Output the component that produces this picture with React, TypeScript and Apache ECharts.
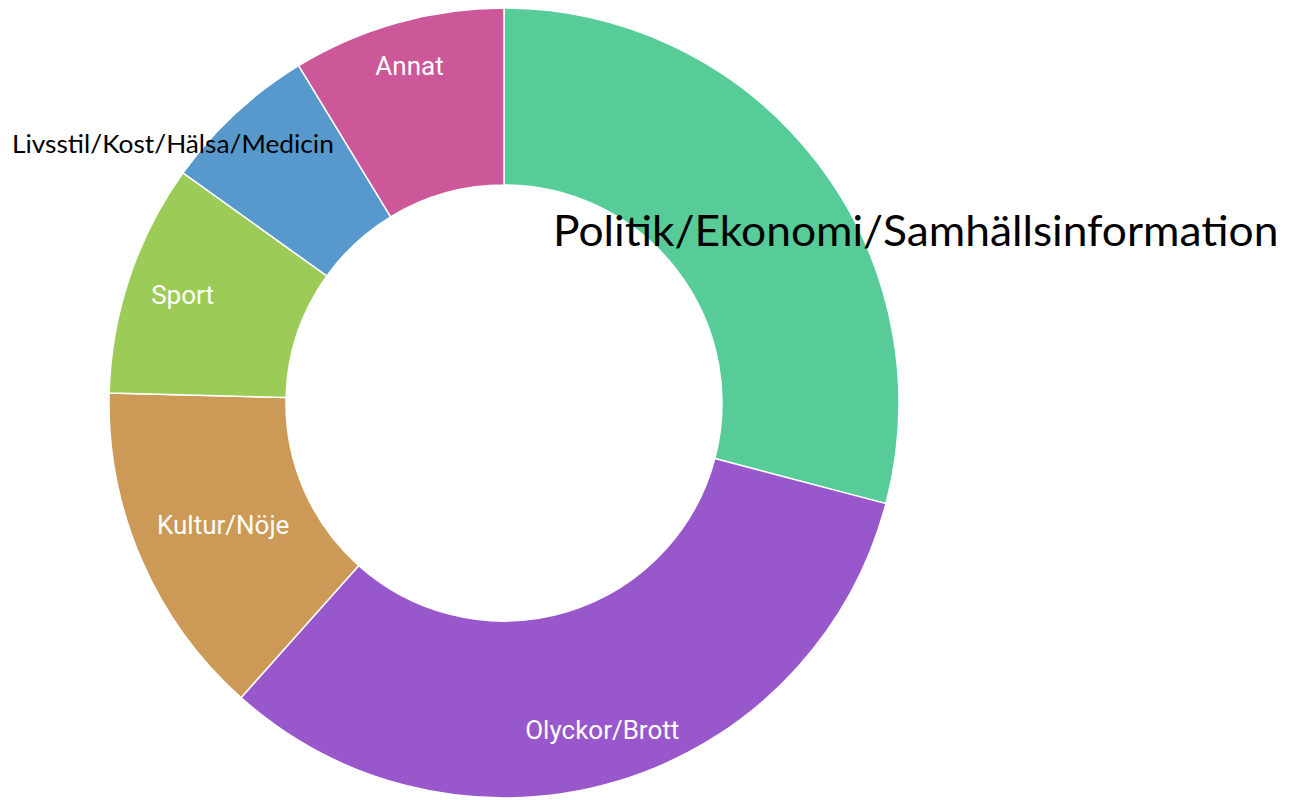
import React, { useEffect, useRef } from "react";
import * as echarts from "echarts";

const categories = [
  "Politik/Ekonomi/Samhällsinformation",
  "Olyckor/Brott",
  "Kultur/Nöje",
  "Sport",
  "Livsstil/Kost/Hälsa/Medicin",
  "Annat",
];
const values = [29.1, 32.5, 13.8, 9.5, 6.4, 8.7];
const colors = ["#57cc99", "#9957cc", "#cc9957", "#9ccc57", "#5799cc", "#cc5799"];
// labels drawn as black overlay text instead of inside the slice
const overlayLabels = [0, 4];

// layout constants
const CX = 504;
const CY = 403;
const LABEL_RADIUS = [0, 341, 306, 339, 0, 350];

export default function App() {
  const ref = useRef<HTMLDivElement>(null);
  useEffect(() => {
    if (!ref.current) return;
    const chart = echarts.init(ref.current, undefined, { renderer: "svg" });
    chart.setOption({
      animation: false,
      backgroundColor: "#ffffff",
      series: [
        {
          type: "pie",
          center: [CX, CY],
          radius: [218, 395],
          startAngle: 90,
          clockwise: true,
          avoidLabelOverlap: false,
          itemStyle: { borderColor: "#ffffff", borderWidth: 1.5 },
          label: {
            show: true,
            position: "inside",
            color: "#ffffff",
            fontFamily: "Roboto",
            fontSize: 26,
            formatter: "{b}",
          },
          labelLine: { show: false },
          emphasis: { disabled: true },
          labelLayout: (params: any) => {
            const r = LABEL_RADIUS[params.dataIndex];
            if (!r) return {};
            const lr = params.labelRect;
            const lx = lr.x + lr.width / 2;
            const ly = lr.y + lr.height / 2;
            const vx = lx - CX;
            const vy = ly - CY;
            const d = Math.sqrt(vx * vx + vy * vy) || 1;
            return { dx: (vx / d) * r - vx, dy: (vy / d) * r - vy };
          },
          data: categories.map((name, i) => ({
            name,
            value: values[i],
            itemStyle: { color: colors[i] },
            label: { show: !overlayLabels.includes(i) },
          })),
        },
      ],
      graphic: [
        {
          type: "text",
          x: 553,
          y: 208,
          scaleX: 1.055,
          z: 100,
          zlevel: 1,
          style: {
            text: categories[0],
            fill: "#000000",
            font: "42px Lato",
          },
        },
        {
          type: "text",
          x: 12,
          y: 131,
          scaleX: 1.052,
          z: 100,
          zlevel: 1,
          style: {
            text: categories[4],
            fill: "#000000",
            font: "25px Lato",
          },
        },
      ],
    });
    return () => chart.dispose();
  }, []);
  return (
    <div
      ref={ref}
      style={{ position: "fixed", left: 0, top: 0, width: 1293, height: 800 }}
    />
  );
}
